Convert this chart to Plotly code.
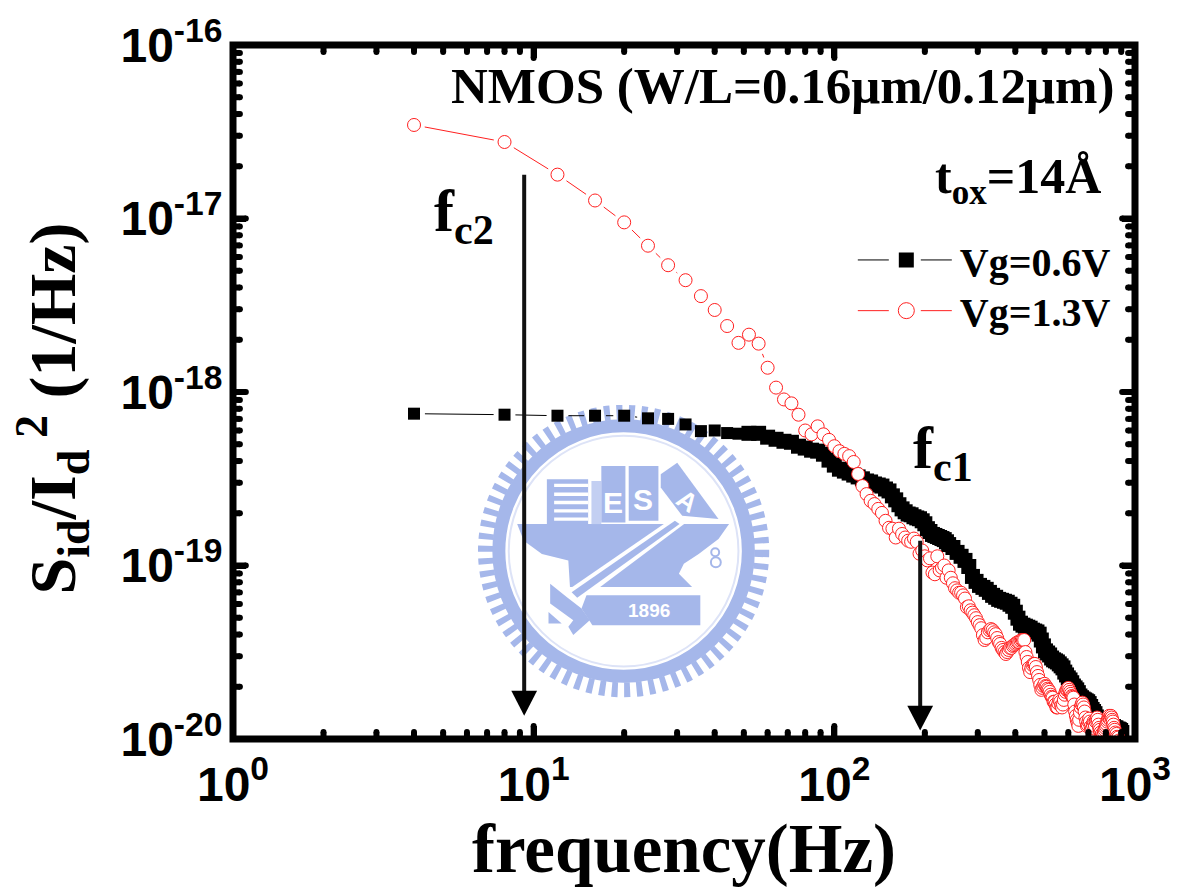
import math
import plotly.graph_objects as go

black_f = [4,8,12,16,20,24,28,32,36,40,44,48,52,56,60,64,68,72,76,80,84,88,92,96,100,104,108,112,116,120,124,128,132,136,140,144,148,152,156,160,164,168,172,176,180,184,188,192,196,200,204,208,212,216,220,224,228,232,236,240,
248,256,264,272,280,288,296,304,312,320,328,336,344,352,360,368,376,384,392,400,408,416,424,432,440,448,456,464,472,480,488,496,504,512,520,528,536,544,552,560,568,576,584,592,600,608,616,624,632,640,648,656,664,672,680,688,696,704,712,720,728,736,744,752,760,768,776,784,792,800,808,816,824,832,840,848,856,864,872,880,888,896,904]
black_s = [7.5e-19,7.4e-19,7.3e-19,7.3e-19,7.3e-19,7.05e-19,7.0e-19,6.5e-19,5.95e-19,6.0e-19,5.8e-19,5.75e-19,5.78e-19,5.78e-19,5.49e-19,5.34e-19,5.2e-19,5.13e-19,4.87e-19,4.75e-19,4.62e-19,4.56e-19,4.38e-19,4.05e-19,3.79e-19,3.59e-19,3.5e-19,3.41e-19,3.32e-19,3.24e-19,3.16e-19,3.07e-19,3.03e-19,2.95e-19,2.91e-19,2.87e-19,2.76e-19,2.69e-19,2.52e-19,2.39e-19,2.24e-19,2.12e-19,2.04e-19,1.98e-19,1.96e-19,1.91e-19,1.88e-19,1.86e-19,1.81e-19,1.74e-19,1.63e-19,1.57e-19,1.51e-19,1.49e-19,1.47e-19,1.45e-19,1.43e-19,1.41e-19,1.37e-19,1.32e-19,
1.27e-19,1.19e-19,1.13e-19,1.07e-19,9.87e-20,8.65e-20,8.1e-20,7.68e-20,7.48e-20,7.29e-20,7.0e-20,6.73e-20,6.56e-20,6.38e-20,6.3e-20,6.22e-20,6.14e-20,5.98e-20,5.82e-20,5.38e-20,4.97e-20,4.65e-20,4.53e-20,4.47e-20,4.41e-20,4.35e-20,4.24e-20,4.19e-20,4.14e-20,4.02e-20,3.72e-20,3.44e-20,3.22e-20,3.13e-20,3.05e-20,2.93e-20,2.86e-20,2.82e-20,2.78e-20,2.71e-20,2.64e-20,2.57e-20,2.43e-20,2.34e-20,2.25e-20,2.19e-20,2.11e-20,2.02e-20,1.97e-20,1.92e-20,1.85e-20,1.77e-20,1.73e-20,1.7e-20,1.68e-20,1.66e-20,1.64e-20,1.6e-20,1.54e-20,1.48e-20,1.44e-20,1.4e-20,1.34e-20,1.29e-20,1.26e-20,1.22e-20,1.21e-20,1.21e-20,1.21e-20,1.21e-20,1.21e-20,1.21e-20,1.19e-20,1.18e-20,1.18e-20,1.18e-20,1.16e-20,1.16e-20,1.14e-20,1.14e-20,1.13e-20,1.12e-20,1.09e-20]

red_f = [4,8,12,16,20,24,28,32,36,40,44,48,52,56,60,64,68,72,76,80,84,88,92,96,100,104,108,112,116,120,124,128,132,136,140,144,148,152,156,160,164,168,172,176,180,184,188,192,196,200,204,208,212,216,220,224,228,232,236,240,
244,248,252,256,260,264,268,272,276,280,284,288,292,296,300,304,308,312,316,320,324,328,332,336,340,344,348,352,356,360,364,368,372,376,380,384,388,392,396,400,404,408,412,416,420,424,428,
432,436,440,444,448,452,456,460,464,468,472,476,480,484,488,492,496,500,504,508,512,516,520,524,528,532,536,540,544,548,552,556,560,564,568,572,576,580,584,588,592,596,600,604,608,612,616,620,624,628,632,636,640,644,648,652,656,660,664,668,672,676,680,684,688,692,696,700,704,708,712,716,720,724,728,732,736,740,744,748,752,756,760,764,768,772,776,780,784,788,792,796,800,804,808,812,816,820,824,828,832,836,840,844,848,852,856,860,864,868,872,876,880,884,888,892,896,900]
red_s = [3.46e-17,2.76e-17,1.79e-17,1.27e-17,9.5e-18,6.97e-18,5.38e-18,4.41e-18,3.57e-18,2.97e-18,2.4e-18,1.92e-18,2.14e-18,1.9e-18,1.38e-18,1.06e-18,9.06e-19,8.6e-19,7.4e-19,6.0e-19,5.7e-19,6.34e-19,5.7e-19,5.3e-19,4.87e-19,4.56e-19,4.4e-19,4.27e-19,3.95e-19,3.37e-19,2.87e-19,2.58e-19,2.36e-19,2.26e-19,2.12e-19,2.01e-19,1.81e-19,1.65e-19,1.63e-19,1.45e-19,1.63e-19,1.52e-19,1.45e-19,1.39e-19,1.37e-19,1.43e-19,1.37e-19,1.17e-19,1.22e-19,1.13e-19,1.07e-19,1.1e-19,9.1e-20,8.9e-20,1.13e-19,9.37e-20,9.7e-20,1.0e-19,8.5e-20,9.37e-20,
8.5e-20,7.9e-20,7.4e-20,7.19e-20,6.97e-20,6.97e-20,6.73e-20,6.45e-20,5.75e-20,5.82e-20,5.52e-20,5.35e-20,5.17e-20,4.97e-20,4.72e-20,4.53e-20,4.35e-20,3.97e-20,3.72e-20,3.82e-20,4.12e-20,4.24e-20,4.3e-20,4.24e-20,4.12e-20,4.02e-20,3.82e-20,3.62e-20,3.53e-20,3.35e-20,3.26e-20,3.17e-20,3.09e-20,3.17e-20,3.26e-20,3.35e-20,3.35e-20,3.44e-20,3.48e-20,3.53e-20,3.58e-20,3.62e-20,3.62e-20,3.68e-20,3.72e-20,3.72e-20,3.72e-20,
3.17e-20,2.97e-20,2.78e-20,2.57e-20,2.43e-20,2.57e-20,2.67e-20,2.71e-20,2.71e-20,2.6e-20,2.43e-20,2.31e-20,2.19e-20,2.05e-20,1.92e-20,1.97e-20,2.02e-20,2.08e-20,2.02e-20,2.0e-20,1.95e-20,1.92e-20,1.87e-20,1.8e-20,1.75e-20,1.73e-20,1.64e-20,1.64e-20,1.58e-20,1.52e-20,1.52e-20,1.6e-20,1.68e-20,1.64e-20,1.56e-20,1.52e-20,1.58e-20,1.68e-20,1.8e-20,1.87e-20,1.92e-20,1.92e-20,1.97e-20,1.92e-20,1.87e-20,1.82e-20,1.77e-20,1.75e-20,1.73e-20,1.58e-20,1.44e-20,1.36e-20,1.29e-20,1.24e-20,1.19e-20,1.29e-20,1.42e-20,1.52e-20,1.58e-20,1.62e-20,1.58e-20,1.52e-20,1.44e-20,1.33e-20,1.26e-20,1.19e-20,1.21e-20,1.26e-20,1.31e-20,1.26e-20,1.18e-20,1.13e-20,1.16e-20,1.21e-20,1.26e-20,1.24e-20,1.19e-20,1.26e-20,1.29e-20,1.33e-20,1.29e-20,1.21e-20,1.16e-20,1.13e-20,1.09e-20,1.05e-20,1.07e-20,1.02e-20,1.06e-20,1.1e-20,1.13e-20,1.16e-20,1.19e-20,1.22e-20,1.26e-20,1.29e-20,1.33e-20,1.36e-20,1.33e-20,1.29e-20,1.36e-20,1.33e-20,1.29e-20,1.26e-20,1.21e-20,1.16e-20,1.13e-20,1.09e-20,1.05e-20,1.07e-20,1.03e-20,9.9e-21,1.02e-20,9.8e-21,9.55e-21,9.3e-21,9.7e-21,9.3e-21]

x_ticks = [1, 10, 100, 1000]
x_ticktext = ["10<sup>0</sup>", "10<sup>1</sup>", "10<sup>2</sup>", "10<sup>3</sup>"]
y_ticks = [1e-20, 1e-19, 1e-18, 1e-17, 1e-16]
y_ticktext = ["10<sup>-20</sup>", "10<sup>-19</sup>", "10<sup>-18</sup>", "10<sup>-17</sup>", "10<sup>-16</sup>"]
minor_steps = [2, 3, 4, 5, 6, 7, 8, 9]
series_names = ["Vg=0.6V", "Vg=1.3V"]
arrow_f = [9.3, 193]

W, H = 1183, 892
L, R, T, B = 233.0, 1144.0, 41.5, 739.5
SERIF = "Liberation Serif"
SANS = "Liberation Sans"
EMBLEM = "#a5b7ea"
TICK = "black"


def px(x):
    return (x - L) / (R - L)


def py(y):
    return (B - y) / (B - T)


def zoom_poly(points, color=EMBLEM):
    """Emblem outline, given in 3x pixels of the watermark's own box."""
    parts = []
    for i, (zx, zy) in enumerate(points):
        parts.append(f"{'M' if i == 0 else 'L'}{px(zx / 3 + 470):.5f},{py(zy / 3 + 390):.5f}")
    return dict(type="path", xref="paper", yref="paper", layer="below",
                path=" ".join(parts) + " Z", fillcolor=color, line=dict(width=0))


def ring(cx, cy, r, color, width, dash="solid"):
    return dict(type="circle", xref="paper", yref="paper", layer="below",
                x0=px(cx - r), x1=px(cx + r), y0=py(cy + r), y1=py(cy - r),
                line=dict(color=color, width=width, dash=dash), fillcolor="rgba(0,0,0,0)")


def gapped(fs, vals, gap_px=11.0):
    """Connecting line that stops short of each marker, as in the original."""
    sx = (R - L) / 3.0
    sy = (B - T) / 4.0
    xs, ys = [], []
    for f0, v0, f1, v1 in zip(fs, vals, fs[1:], vals[1:]):
        dx = (math.log10(f1) - math.log10(f0)) * sx
        dy = (math.log10(v1) - math.log10(v0)) * sy
        d = math.hypot(dx, dy)
        if d <= 2 * gap_px + 1:
            continue
        t = gap_px / d
        lf0, lf1 = math.log10(f0), math.log10(f1)
        lv0, lv1 = math.log10(v0), math.log10(v1)
        xs += [10 ** (lf0 + (lf1 - lf0) * t), 10 ** (lf1 - (lf1 - lf0) * t), None]
        ys += [10 ** (lv0 + (lv1 - lv0) * t), 10 ** (lv1 - (lv1 - lv0) * t), None]
    return xs, ys


def tick_mark(x0, y0, x1, y1, width):
    """A round-ended tick: a stroke with a dot at its free end."""
    r = width / 2
    return [
        dict(type="line", xref="paper", yref="paper", x0=px(x0), y0=py(y0), x1=px(x1), y1=py(y1),
             line=dict(color=TICK, width=width)),
        dict(type="circle", xref="paper", yref="paper", x0=px(x1 - r), x1=px(x1 + r),
             y0=py(y1 + r), y1=py(y1 - r), fillcolor=TICK, line=dict(width=0)),
    ]


def frame_ticks():
    out = []
    sx = (R - L) / 3.0
    sy = (B - T) / 4.0
    for decade in range(3):
        for k in minor_steps:
            x = L + (decade + math.log10(k)) * sx
            out += tick_mark(x, B, x, B - 7, 6) + tick_mark(x, T, x, T + 7, 6)
    for decade in range(4):
        for k in minor_steps:
            y = B - (decade + math.log10(k)) * sy
            out += tick_mark(L, y, L + 7, y, 6) + tick_mark(R, y, R - 7, y, 6)
    for decade in range(1, 3):
        x = L + decade * sx
        out += tick_mark(x, B, x, B - 13, 6) + tick_mark(x, T, x, T + 13, 6)
    for decade in range(1, 4):
        y = B - decade * sy
        out += tick_mark(L, y, L + 13, y, 6) + tick_mark(R, y, R - 13, y, 6)
    return out


shapes = [
    ring(627.5, 550.5, 139.5, EMBLEM, 15, "6px,6.4px"),
    ring(627.5, 550.5, 126, EMBLEM, 13),
    ring(627.5, 550.5, 116, "#dde3f7", 2),
    zoom_poly([(150, 400), (792, 400), (760, 445), (700, 490), (655, 520), (640, 550), (680, 590),
               (310, 590), (305, 510), (225, 490), (170, 450)]),
    zoom_poly([(240, 265), (365, 265), (365, 400), (240, 400)]),
    zoom_poly([(375, 270), (405, 270), (405, 400), (375, 400)], "#c3cff2"),
    zoom_poly([(405, 225), (478, 225), (478, 395), (405, 395)]),
    zoom_poly([(488, 225), (578, 225), (578, 390), (488, 390)]),
    zoom_poly([(585, 250), (635, 215), (760, 385), (650, 375), (585, 290)]),
    zoom_poly([(635, 372), (662, 395), (345, 632), (295, 605)], "#ffffff"),
    zoom_poly([(628, 390), (642, 400), (332, 622), (315, 606)]),
    zoom_poly([(250, 580), (300, 620), (345, 655), (370, 690), (320, 735), (305, 710), (320, 690), (250, 640)]),
    zoom_poly([(245, 665), (285, 700), (245, 700)]),
    zoom_poly([(360, 615), (705, 615), (705, 705), (378, 705), (345, 655)]),
    ring(470 + 750 / 3, 390 + 485 / 3, 4, EMBLEM, 2),
    ring(470 + 752 / 3, 390 + 515 / 3, 5, EMBLEM, 2),
]
for zy in (278, 305, 330, 355, 380):
    shapes.append(zoom_poly([(262, zy), (365, zy), (365, zy + 10), (262, zy + 10)], "#ffffff"))

for f_value, y_top, y_tip in ((arrow_f[0], 172, 716), (arrow_f[1], 540, 731)):
    ax = L + (R - L) * math.log10(f_value) / 3
    shapes.append(dict(type="line", xref="paper", yref="paper", x0=px(ax), x1=px(ax),
                       y0=py(y_top), y1=py(y_tip - 20), line=dict(color="#111111", width=4)))
    shapes.append(dict(type="path", xref="paper", yref="paper", fillcolor="black", line=dict(width=0),
                       path=f"M{px(ax - 13):.5f},{py(y_tip - 25):.5f} L{px(ax + 13):.5f},{py(y_tip - 25):.5f} "
                            f"L{px(ax):.5f},{py(y_tip):.5f} Z"))

shapes += frame_ticks()
# Heavy frame centred on the plot box, so the decades sit on its line centres.
shapes.append(dict(type="rect", xref="paper", yref="paper", x0=0, x1=1, y0=0, y1=1,
                   line=dict(color="black", width=7), fillcolor="rgba(0,0,0,0)"))

fig = go.Figure()

bx, by = gapped(black_f, black_s)
fig.add_trace(go.Scatter(x=bx, y=by, mode="lines", line=dict(color="black", width=1),
                         showlegend=False, hoverinfo="skip"))
fig.add_trace(go.Scatter(x=black_f, y=black_s, mode="markers", showlegend=False,
                         marker=dict(symbol="square", color="black", opacity=1, line=dict(width=0),
                                     size=[12 if f < 50 else 15 for f in black_f])))
rx, ry = gapped(red_f, red_s)
fig.add_trace(go.Scatter(x=rx, y=ry, mode="lines", line=dict(color="#ff2020", width=1),
                         showlegend=False, hoverinfo="skip"))
fig.add_trace(go.Scatter(x=red_f, y=red_s, mode="markers", showlegend=False,
                         marker=dict(symbol="circle", size=13, color="white",
                                     line=dict(color="#ff2020", width=1))))
# Legend entries: the dash pattern reproduces the line-gap-marker-gap-line key.
fig.add_trace(go.Scatter(x=[None], y=[None], name=series_names[0], mode="lines+markers", legend="legend",
                         line=dict(color="black", width=1, dash="31px,32px,31px"),
                         marker=dict(symbol="square", size=15, color="black")))
fig.add_trace(go.Scatter(x=[None], y=[None], name=series_names[1], mode="lines+markers", legend="legend2",
                         line=dict(color="#ff2020", width=1, dash="31px,32px,31px"),
                         marker=dict(symbol="circle", size=16, color="white",
                                     line=dict(color="#ff2020", width=1))))


def note(text, x, y, size, anchor="left", color="black", angle=0, family=SERIF):
    return dict(text=text, xref="paper", yref="paper", x=px(x), y=py(y), showarrow=False,
                xanchor=anchor, yanchor="middle", textangle=angle,
                font=dict(family=family, size=size, color=color))


annotations = [
    note("<b>NMOS (W/L=0.16μm/0.12μm)</b>", 451, 83, 51),
    note("<b>t<sub>ox</sub>=14Å</b>", 940, 177, 50),
    note("<b>f<sub>c2</sub></b>", 434, 213, 60),
    note("<b>f<sub>c1</sub></b>", 918, 451, 60),
    note("<b>E</b>", 470 + 441 / 3, 390 + 335 / 3, 30, "center", "white", family=SANS),
    note("<b>S</b>", 470 + 530 / 3, 390 + 325 / 3, 30, "center", "white", family=SANS),
    note("<b>A</b>", 470 + 665 / 3, 390 + 330 / 3, 26, "center", "white", 35, SANS),
    note("<b>1896</b>", 470 + 550 / 3, 390 + 660 / 3, 19, "center", "white", family=SANS),
]

axis_common = dict(
    type="log", showgrid=False, zeroline=False, showline=True, linecolor="black", linewidth=1,
    mirror="allticks", ticks="inside", ticklen=13, tickwidth=6, tickcolor=TICK,
    tickfont=dict(family=SANS, size=48, color="black", weight="bold"), tickmode="array",
)
legend_common = dict(xanchor="left", yanchor="top", bgcolor="rgba(0,0,0,0)", borderwidth=0, itemwidth=97,
                     font=dict(family=SERIF, size=40, color="black", weight="bold"))

fig.update_layout(
    width=W, height=H, autosize=False,
    margin=dict(l=L, r=W - R, t=T, b=H - B, pad=0),
    paper_bgcolor="white", plot_bgcolor="white",
    xaxis=dict(axis_common, range=[0, 3], tickvals=x_ticks, ticktext=x_ticktext, ticklabelstandoff=3,
               title=dict(text="<b>frequency(Hz)</b>", standoff=4,
                          font=dict(family=SERIF, size=69, color="black"))),
    yaxis=dict(axis_common, range=[-20, -16], tickvals=y_ticks, ticktext=y_ticktext, ticklabelstandoff=0,
               title=dict(text="<b>S<sub>id</sub>/I<sub>d</sub><sup>\u00a02</sup> (1/Hz)\u00a0\u00a0</b>",
                          standoff=23, font=dict(family=SERIF, size=66, color="black"))),
    legend=dict(legend_common, x=px(859), y=py(225)),
    legend2=dict(legend_common, x=px(859), y=py(276)),
    shapes=shapes,
    annotations=annotations,
)

fig.write_html("out.html", config={"displayModeBar": False},
               post_script="document.body.style.margin='0';")
